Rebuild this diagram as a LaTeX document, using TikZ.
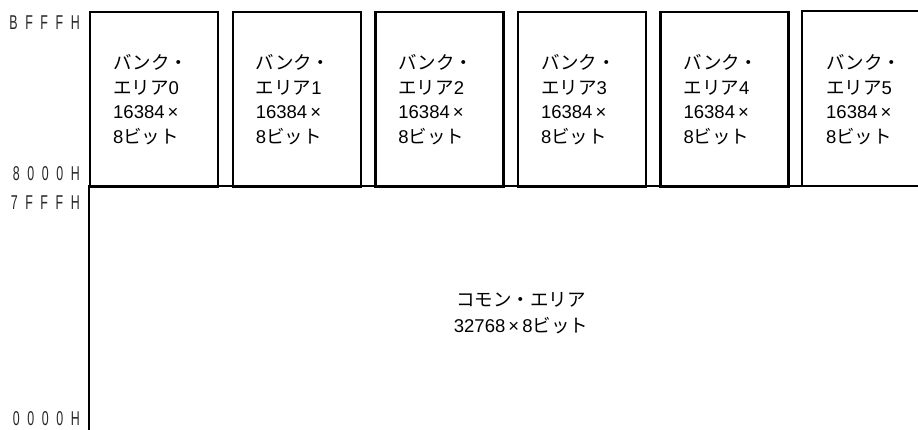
\documentclass[tikz,border=0pt]{standalone}
\usepackage{fontspec}
\setmainfont{Liberation Sans}
\newfontfamily\jp{Noto Sans CJK JP}
\newfontfamily\addrfont[FakeStretch=0.62]{Liberation Sans}
\newcommand{\gap}{\hspace{7.6pt}}
\begin{document}
\begin{tikzpicture}[x=1pt,y=-1pt,
  bank/.style={draw, line width=2.4pt, minimum width=128pt, minimum height=175pt, inner sep=0pt, anchor=north west},
  banktext/.style={anchor=west, align=left, inner sep=0pt, font=\fontsize{18.5}{24.5}\selectfont},
  addr/.style={anchor=east, inner sep=0pt, font=\addrfont\fontsize{20}{20}\selectfont, text=black!85},
  line/.style={line width=2.4pt}]
\useasboundingbox (0,0) rectangle (918,430);
% bank boxes
\node[bank] (b0) at (89,11) {};
\node[bank] (b1) at (231.6,11) {};
\node[bank] (b2) at (374.2,11) {};
\node[bank] (b3) at (516.8,11) {};
\node[bank] (b4) at (659.4,11) {};
\coordinate (b5bl) at (802,186);
\coordinate (b5tl) at (802,11);
\coordinate (b5tr) at (920,11);
\draw[line] (b5bl) -- (b5tl) -- (b5tr);
% common area
\coordinate (ctl) at (89,186);
\coordinate (cbl) at (89,432);
\coordinate (ctr) at (920,186);
\draw[line] (cbl) -- (ctl) -- (ctr);
% bank texts
\foreach \i/\x in {0/113,1/255.6,2/398.2,3/540.8,4/683.4,5/826}{
  \node[banktext] (t\i) at (\x,99.5) {{\jp バンク・}\\{\jp エリア}\i\\16384\,×\\8{\jp ビット}};
}
% common text
\node[align=center, inner sep=0pt, font=\fontsize{18.5}{26}\selectfont] (ct) at (521,313) {{\jp コモン・エリア}\\32768\,×\,8{\jp ビット}};
% address labels
\node[addr] (a1) at (80,23) {B\gap F\gap F\gap F\gap H};
\node[addr] (a2) at (80,174) {8\gap 0\gap 0\gap 0\gap H};
\node[addr] (a3) at (80,203) {7\gap F\gap F\gap F\gap H};
\node[addr] (a4) at (80,419) {0\gap 0\gap 0\gap 0\gap H};
\end{tikzpicture}
\end{document}
